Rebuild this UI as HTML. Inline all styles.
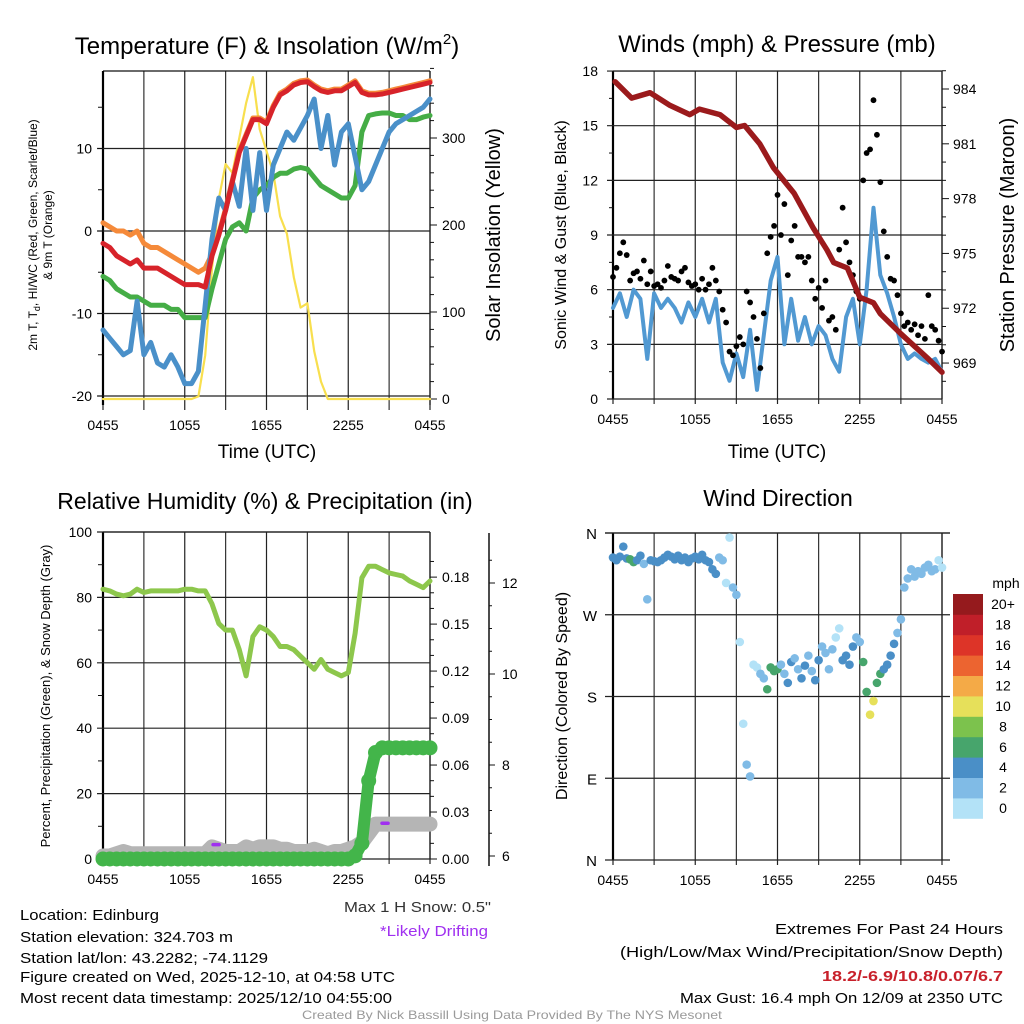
<!DOCTYPE html>
<html><head><meta charset="utf-8"><style>
html,body{margin:0;padding:0;background:#fff}
svg{display:block;font-family:"Liberation Sans",sans-serif}
</style></head><body>
<svg id="fig" xmlns="http://www.w3.org/2000/svg" width="1024" height="1024" viewBox="0 0 1024 1024">
<rect width="1024" height="1024" fill="#fff"/>
</svg>
<script>
// ---------------- data (half-hour steps from 0455 UTC) ----------------
const timeLabels = ["0455","1055","1655","2255","0455"];
const tempRed = [-1.5,-2,-3,-3.5,-4,-3.5,-4.5,-4.5,-4.5,-5,-5.5,-6,-6.5,-6.5,-6.5,-6.8,-3,-0.5,2.5,6,9.5,11.5,13.5,13.5,13,15,16.5,17,17.7,18,18.1,17.5,17,16.8,17,17,17.5,18,16.8,16.5,16.5,16.6,16.8,17,17.2,17.4,17.6,17.8,18];
const tempOrange = [1,0.5,0,0,-0.5,0,-1.5,-2,-2,-2.5,-3,-3.5,-4,-4.5,-5,-4.5,-2.8,-0.3,2.7,6.2,9.7,11.7,13.7,13.7,13.2,15.2,16.7,17.2,17.9,18.2,18.3,17.7,17.2,17,17.2,17.2,17.7,18.2,17,16.7,16.7,16.8,17,17.2,17.4,17.6,17.8,18,18.2];
const tempGreen = [-5.5,-6,-7,-7.5,-8,-8,-8.5,-9,-9,-9,-9.5,-9.5,-10.5,-10.5,-10.5,-10.5,-7,-4,-1,0.5,1,0,4,5,5.5,6.5,7,7,7.5,7.7,7.5,6.5,5.5,5,4.5,4,4,5.5,12,14,14.2,14.3,14.3,14,14,13.5,13.5,13.8,14];
const tempBlue = [-12,-13,-14,-15,-14.5,-8.5,-15,-13.5,-16,-16.5,-15,-16.5,-18.5,-18.5,-17,-9,-1,4,2.5,6,3,10,2.5,9.5,2.5,8,10,12,11,12.5,14,16,10,14,8,12,13,9,5,6,8,10,12,13,13.5,14,14.5,15,16];
const solar = [0,0,0,0,0,0,0,0,0,0,0,0,0,0,3,50,150,230,270,260,300,340,370,310,285,260,210,190,140,105,110,55,20,0,0,0,0,0,0,0,0,0,0,0,0,0,0,0,0];
const windSpeed = [5,5.8,4.5,6,5.5,2.2,5.8,5,5.5,5,4.2,5.3,4.5,5.5,4.2,5.5,2,1,2.5,1.2,3.8,0.5,3.5,6.5,7.8,3,5.5,3.2,4.5,3,4,3.5,2.2,1.5,4.5,5.5,3,6,10.5,6.8,5.8,4.5,3,2.2,2.5,2.2,2,2.2,1.5];
const pressHours = [0.15,1.36,2.7,4.16,5.6,6.3,7.8,9.0,9.6,10.7,11.7,13.2,14.6,15.6,16.1,17.1,18.0,19.0,19.5,21.0,22.9,24];
const pressure = [984.4,983.5,983.8,983.1,982.6,982.9,982.6,981.9,982.0,981.0,979.7,978.3,976.4,975.2,974.5,974.2,972.6,972.3,971.7,970.6,969.3,968.5];
// quarter-hour steps
const gust = [6.7,7.2,8.0,8.6,7.9,6.5,6.9,7.0,6.6,7.6,6.3,7.0,6.2,6.3,6.1,6.5,7.3,6.7,6.6,6.5,7.0,7.2,6.4,6.2,6.3,6.0,6.6,6.0,6.3,7.2,6.5,5.9,4.9,4.2,2.6,2.4,2.9,3.4,3.0,5.9,5.3,4.5,3.3,1.7,4.7,8.0,8.9,9.5,11.2,9.0,10.7,6.8,8.7,9.5,7.8,7.8,7.5,7.8,6.5,5.5,6.1,5.0,6.5,4.3,4.5,3.8,8.2,10.5,8.6,7.5,6.8,5.9,5.5,12.0,13.5,13.7,16.4,14.5,11.9,9.2,7.8,6.6,6.5,5.7,4.7,4.0,4.2,3.8,4.1,3.5,4.0,3.3,5.7,4.0,3.8,3.2,2.6];
const direction = [333,330,334,345,332,331,328,330,335,326,287,330,329,328,330,333,336,334,331,335,330,333,328,332,334,331,336,330,328,320,315,333,330,305,355,300,292,240,150,105,92,215,212,205,200,188,212,208,210,215,205,195,218,222,210,200,214,225,208,198,220,235,228,210,232,245,255,220,225,215,235,245,240,218,185,160,175,195,205,210,215,225,238,250,265,300,310,320,312,318,315,322,325,318,320,330,322];
const rh = [82.5,82,81,80.5,81,82.5,81.5,82,82,82,82,82,82.5,82.5,82,82,78,72,70,70,64,56,68,71,70,68,65,65,64,62,60,58,61,58,57,56,57,69,86,89.5,89.5,88.5,87.5,87,86.5,85,84,83,85];
const precip = [0,0,0,0,0,0,0,0,0,0,0,0,0,0,0,0,0,0,0,0,0,0,0,0,0,0,0,0,0,0,0,0,0,0,0,0,0,0.002,0.01,0.05,0.068,0.071,0.071,0.071,0.071,0.071,0.071,0.071,0.071];
const snowDepth = [6.0,6.0,6.05,6.1,6.05,6.05,6.05,6.05,6.05,6.05,6.05,6.05,6.05,6.05,6.05,6.05,6.2,6.15,6.1,6.1,6.1,6.2,6.15,6.2,6.2,6.2,6.15,6.15,6.1,6.1,6.1,6.15,6.1,6.05,6.1,6.1,6.15,6.2,6.3,6.5,6.7,6.7,6.7,6.7,6.7,6.7,6.7,6.7,6.7];
const driftHours = [8.3,20.7];
const driftDepth = [6.25,6.72];
const tempTicks = [-20,-10,0,10];
const solarTicks = [0,100,200,300];
const windTicks = [0,3,6,9,12,15,18];
const pressTicks = [969,972,975,978,981,984];
const rhTicks = [0,20,40,60,80,100];
const precipTicks = ["0.00","0.03","0.06","0.09","0.12","0.15","0.18"];
const snowTicks = [6,8,10,12];
const dirLabels = ["N","E","S","W","N"];
const cbLabels = ["0","2","4","6","8","10","12","14","16","18","20+"];
const cbColors = ["#b3e2f7","#80bbe6","#4a8fc7","#47a56c","#7cc24d","#e6e05a","#f4aa47","#ec6430","#dd3428","#c01f29","#951a1d"];

// ---------------- helpers ----------------
const NS="http://www.w3.org/2000/svg";
const svg=document.getElementById('fig');
function mk(tag,a,p){const e=document.createElementNS(NS,tag);for(const k in a)e.setAttribute(k,a[k]);(p||svg).appendChild(e);return e;}
function tx(s,x,y,size,anchor,extra){const e=mk('text',Object.assign({x:x,y:y,'font-size':size,'text-anchor':anchor||'middle',fill:'#000'},extra||{}));e.textContent=s;return e;}
function ln(x1,y1,x2,y2,w,c){return mk('line',{x1:x1,y1:y1,x2:x2,y2:y2,stroke:c||'#111','stroke-width':w||1});}
function pts(xs,ys){return xs.map((x,i)=>x.toFixed(1)+','+ys[i].toFixed(1)).join(' ');}
const halfH=tempRed.map((_,i)=>i*0.5);
const qH=gust.map((_,i)=>i*0.25);

// scales
const xA=h=>103+h*13.625, xB=h=>613+h*13.71;
const yT=v=>231-v*8.25, yS=w=>399-w*0.87;
const yW=v=>399-v*18.22, yP=p=>89+(984-p)*18.27;
const yRH=v=>859-v*3.27, yPr=v=>859-v*1566, ySn=v=>856-(v-6)*45.5;
const yD=d=>860-d*0.9083;

function frame(x0,x1,y0,y1,name,hExt){
  const g=mk('g',{});
  
  
  for(let i=0;i<=8;i++){const x=x0+(x1-x0)*i/8;mk('line',{x1:x,y1:y0,x2:x,y2:y1+5,stroke:i%2?'#333':'#222','stroke-width':1.2},g);}
  mk('line',{x1:x0-(hExt||0),y1:y0,x2:x1+(hExt||0),y2:y0,stroke:'#111','stroke-width':1.2},g);
  mk('line',{x1:x0,y1:y0,x2:x0,y2:y1,stroke:'#000','stroke-width':2.2},g);
  mk('line',{x1:x1,y1:y0,x2:x1,y2:y1,stroke:'#111','stroke-width':1.2},g);
  timeLabels.forEach((s,i)=>{const t=tx(s,x0+(x1-x0)*i/4,y1+25,14);
    
    });
  return g;
}
function hgrid(x0,x1,y,ext){mk('line',{x1:x0-(ext||6),y1:y,x2:x1+(ext||0),y2:y,stroke:'#222','stroke-width':1.2});}

// ---------------- Panel 1: temperature ----------------
frame(103,430,71,405,'temperature-panel');
tempTicks.forEach(v=>{hgrid(103,430,yT(v));const t=tx(String(v),92,yT(v)+5,14,'end');
  
  });
for(let v=-20;v<=15;v+=5){ln(98,yT(v),103,yT(v),1);}
for(let w=0;w<=380;w+=20){ln(430,yS(w),w%100?434:437,yS(w),1);}
solarTicks.forEach(w=>{const t=tx(String(w),442,yS(w)+5,14,'start');
  
  });
function series(xf,yf,hs,vals,color,w,name){const p=mk('polyline',{points:pts(hs.map(xf),vals.map(yf)),fill:'none',stroke:color,'stroke-width':w,'stroke-linejoin':'round','stroke-linecap':'round'});
  
  return p;}
series(xA,yS,halfH,solar,'#f8df4e',2.2,'solar-insolation-line');
series(xA,yT,halfH,tempOrange,'#f58a3a',5,'temp-9m-line');
series(xA,yT,halfH,tempGreen,'#45ad46',5,'dewpoint-line');
series(xA,yT,halfH,tempBlue,'#4a90c9',5,'windchill-line');
series(xA,yT,halfH,tempRed,'#d7232a',5,'temp-2m-line');
let t;
t=tx('',267,54,24);t.innerHTML='Temperature (F) &amp; Insolation (W/m<tspan font-size="15" dy="-10">2</tspan><tspan dy="10">)</tspan>';


t=tx('Time (UTC)',267,458,19);


t=tx('',37,235,12,'middle',{transform:'rotate(-90 37 235)'});t.innerHTML='2m T, T<tspan font-size="9" dy="3">d</tspan><tspan dy="-3">, HI/WC (Red, Green, Scarlet/Blue)</tspan>';


t=tx('& 9m T (Orange)',52,235,12,'middle',{transform:'rotate(-90 52 235)'});


t=tx('Solar Insolation (Yellow)',500,235,20,'middle',{transform:'rotate(-90 500 235)'});



// ---------------- Panel 2: winds ----------------
frame(613,942,71,399,'winds-panel');
windTicks.forEach(v=>{hgrid(613,942,yW(v));const tt=tx(String(v),598,yW(v)+5,14,'end');
  
  });
for(let v=1.5;v<18;v+=3){ln(609,yW(v),613,yW(v),1);}
for(let p=968;p<=985;p++){ln(942,yP(p),(p%3)?946:949,yP(p),1);}
pressTicks.forEach(p=>{const tt=tx(String(p),953,yP(p)+5,14,'start');
  
  });
series(xB,yW,halfH,windSpeed,'#5199d2',4,'sonic-wind-line');
gust.forEach((g,i)=>{const c=mk('circle',{cx:xB(qH[i]),cy:yW(g),r:2.9,fill:'#000'});
  
  });
series(xB,yP,pressHours,pressure,'#9b1a1c',5.5,'pressure-line');
t=tx('Winds (mph) & Pressure (mb)',777,52,24);


t=tx('Time (UTC)',777,458,19);


t=tx('Sonic Wind & Gust (Blue, Black)',566,235,16,'middle',{transform:'rotate(-90 566 235)'});


t=tx('Station Pressure (Maroon)',1014,235,20,'middle',{transform:'rotate(-90 1014 235)'});



// ---------------- Panel 3: RH ----------------
frame(103,430,532,859,'humidity-panel');
rhTicks.forEach(v=>{hgrid(103,430,yRH(v));const tt=tx(String(v),92,yRH(v)+5,14,'end');
  
  });
for(let v=10;v<100;v+=20){ln(98,yRH(v),103,yRH(v),1);}
for(let k=0;k<=19;k++){const v=k*0.01;ln(430,yPr(v),(k%3)?434:437,yPr(v),1);}
precipTicks.forEach(s=>{const tt=tx(s,442,yPr(parseFloat(s))+5,14,'start');
  
  });
ln(489,533,489,866,1.5);
for(let v=6;v<=12.6;v+=0.5){ln(489,ySn(v),(v%2)?492:495,ySn(v),1);}
snowTicks.forEach(v=>{const tt=tx(String(v),502,ySn(v)+5,14,'start');
  
  });
series(xA,yRH,halfH,rh,'#8dc74c',5,'rh-line');
series(xA,ySn,halfH,snowDepth,'#b5b5b5',15,'snow-depth-line');
series(xA,yPr,halfH,precip,'#43b54a',12,'precip-line');
precip.forEach((v,i)=>{const c=mk('circle',{cx:xA(halfH[i]),cy:yPr(v),r:7.5,fill:'#43b54a'});
  
  });
driftHours.forEach((h,i)=>{const l=mk('line',{x1:xA(h)-3,y1:ySn(driftDepth[i]),x2:xA(h)+3,y2:ySn(driftDepth[i]),stroke:'#a030f0','stroke-width':3.5,'stroke-linecap':'round'});
  
  });
t=tx('Relative Humidity (%) & Precipitation (in)',265,509,23);


t=tx('Percent, Precipitation (Green), & Snow Depth (Gray)',50,696,13,'middle',{transform:'rotate(-90 50 696)'});



// ---------------- Panel 4: direction ----------------
frame(613,942,533,860,'direction-panel',8);
dirLabels.forEach((s,i)=>{const y=yD(i*90);hgrid(613,942,y,8);const tt=tx(s,597,y+6,15,'end');
  
  });
function spdColor(s){return cbColors[Math.min(10,Math.max(0,Math.floor(s/2)))];}
direction.forEach((d,i)=>{const s=windSpeed[Math.min(windSpeed.length-1,Math.round(qH[i]*2))];
  const c=mk('circle',{cx:xB(qH[i]),cy:yD(d),r:4.3,fill:spdColor(s)});
  
  });
cbColors.forEach((c,i)=>{const r=mk('rect',{x:953,y:798-i*20.4,width:30,height:20.8,fill:c});
  
  
  const tt=tx(cbLabels[i],1003,808-i*20.4+5,14,'middle');
  
  });
t=tx('mph',1006,588,14);


t=tx('Wind Direction',778,506,23);


t=tx('Direction (Colored By Speed)',567,696,16,'middle',{transform:'rotate(-90 567 696)'});



// ---------------- footer text ----------------
function ft(s,x,y,w,anchor,extra){const e=tx(s,x,y,15,anchor,Object.assign({textLength:w,lengthAdjust:'spacingAndGlyphs'},extra||{}));return e;}
t=ft('Location: Edinburg',20,920,139,'start');


t=ft('Station elevation: 324.703 m',20,942,213,'start');


t=ft('Station lat/lon: 43.2282; -74.1129',20,963,248,'start');


t=ft('Figure created on Wed, 2025-12-10, at 04:58 UTC',20,982,375,'start');


t=ft('Most recent data timestamp: 2025/12/10 04:55:00',20,1003,372,'start');


t=ft('Max 1 H Snow: 0.5"',491,912,147,'end',{fill:'#333'});


t=ft('*Likely Drifting',488,936,108,'end',{fill:'#a030f0'});


t=ft('Extremes For Past 24 Hours',1003,934,228,'end');


t=ft('(High/Low/Max Wind/Precipitation/Snow Depth)',1003,957,383,'end');


t=ft('18.2/-6.9/10.8/0.07/6.7',1003,981,181,'end',{fill:'#c8202a','font-weight':'bold'});


t=ft('Max Gust: 16.4 mph On 12/09 at 2350 UTC',1003,1003,323,'end');


t=tx('Created By Nick Bassill Using Data Provided By The NYS Mesonet',512,1019,12,'middle',{fill:'#9a9a9a',textLength:420,lengthAdjust:'spacingAndGlyphs'});


</script>
</body></html>
